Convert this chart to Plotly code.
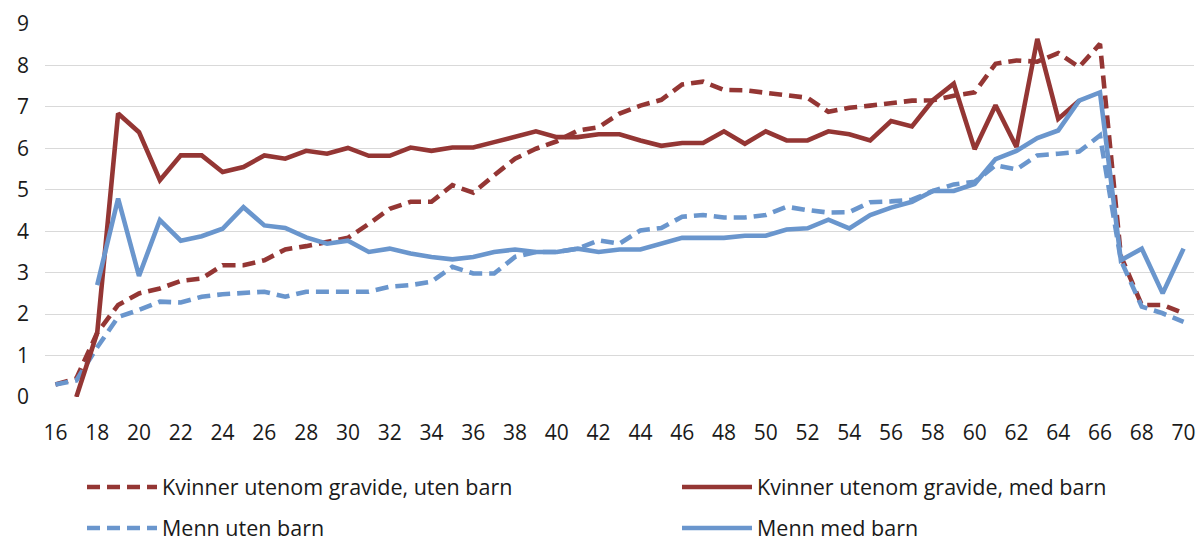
import plotly.graph_objects as go

ages = list(range(16, 71))
tick_vals = list(range(16, 71, 2))
tick_text = [str(v) for v in tick_vals]

names = [
    "Kvinner utenom gravide, uten barn",
    "Kvinner utenom gravide, med barn",
    "Menn uten barn",
    "Menn med barn",
]

# Kvinner utenom gravide, uten barn (ages 16-70)
kv_uten = [0.30, 0.45, 1.55, 2.22, 2.50, 2.62, 2.80, 2.86, 3.18, 3.18,
           3.30, 3.56, 3.64, 3.74, 3.84, 4.18, 4.54, 4.71, 4.71, 5.11,
           4.93, 5.35, 5.75, 5.99, 6.17, 6.43, 6.51, 6.84, 7.03, 7.17,
           7.54, 7.61, 7.41, 7.40, 7.34, 7.26, 7.22, 6.88, 6.98, 7.03,
           7.09, 7.15, 7.16, 7.27, 7.35, 8.04, 8.12, 8.09, 8.30, 7.96,
           8.52, 3.40, 2.22, 2.22, 2.02]

# Kvinner utenom gravide, med barn (ages 17-65)
kv_med_ages = list(range(17, 66))
kv_med = [0.00, 1.55, 6.84, 6.39, 5.23, 5.83, 5.83, 5.43, 5.55, 5.83,
          5.75, 5.94, 5.87, 6.01, 5.82, 5.82, 6.02, 5.94, 6.02, 6.02,
          6.15, 6.29, 6.41, 6.27, 6.27, 6.34, 6.34, 6.19, 6.06, 6.13,
          6.13, 6.41, 6.11, 6.41, 6.19, 6.19, 6.41, 6.34, 6.19, 6.66,
          6.53, 7.16, 7.56, 5.98, 7.04, 6.03, 8.64, 6.71, 7.15]

# Menn uten barn (ages 16-70)
menn_uten = [0.30, 0.40, 1.20, 1.93, 2.10, 2.30, 2.28, 2.42, 2.48, 2.52,
             2.54, 2.42, 2.54, 2.54, 2.54, 2.54, 2.66, 2.70, 2.78, 3.14,
             2.98, 2.98, 3.38, 3.50, 3.50, 3.58, 3.78, 3.70, 4.02, 4.08,
             4.35, 4.39, 4.33, 4.33, 4.39, 4.59, 4.51, 4.45, 4.46, 4.70,
             4.72, 4.76, 4.97, 5.13, 5.19, 5.59, 5.49, 5.83, 5.87, 5.92,
             6.31, 3.30, 2.18, 2.02, 1.81]

# Menn med barn (ages 18-70)
menn_med_ages = list(range(18, 71))
menn_med = [2.70, 4.79, 2.92, 4.27, 3.77, 3.88, 4.06, 4.58, 4.14, 4.08,
            3.85, 3.70, 3.77, 3.50, 3.58, 3.46, 3.38, 3.32, 3.38, 3.50,
            3.56, 3.50, 3.50, 3.58, 3.50, 3.56, 3.56, 3.70, 3.84, 3.84,
            3.84, 3.89, 3.89, 4.04, 4.07, 4.28, 4.07, 4.39, 4.57, 4.71,
            4.97, 4.97, 5.14, 5.74, 5.94, 6.25, 6.43, 7.15, 7.35, 3.30,
            3.58, 2.50, 3.58]

RED = "#943634"
BLUE = "#6A96CD"
FONT = "Open Sans"
LW = 4.6
DASH = "13px,7px"

W, H = 1198, 540
ML, MR, MT, MB = 45, 4, 24, 143
PW = W - ML - MR
PH = H - MT - MB


def px_x(p):
    return (p - ML) / PW


def px_y(p):
    return (H - MB - p) / PH


fig = go.Figure()
fig.add_trace(go.Scatter(x=ages, y=kv_uten, name=names[0], mode="lines",
                         line=dict(color=RED, width=LW, dash=DASH), legend="legend"))
fig.add_trace(go.Scatter(x=ages, y=menn_uten, name=names[2], mode="lines",
                         line=dict(color=BLUE, width=LW, dash=DASH), legend="legend3"))
fig.add_trace(go.Scatter(x=kv_med_ages, y=kv_med, name=names[1], mode="lines",
                         line=dict(color=RED, width=LW), legend="legend2"))
fig.add_trace(go.Scatter(x=menn_med_ages, y=menn_med, name=names[3], mode="lines",
                         line=dict(color=BLUE, width=LW), legend="legend4"))
for tr in fig.data:
    tr.showlegend = True

leg_font = dict(family=FONT, size=21.5, color="#1a1a1a")


def leg(xp, yp):
    return dict(x=px_x(xp), y=px_y(yp), xanchor="left", yanchor="middle",
                xref="paper", yref="paper", font=leg_font, visible=True,
                bgcolor="rgba(0,0,0,0)", borderwidth=0, itemwidth=70)


fig.update_layout(
    width=W, height=H,
    margin=dict(l=ML, r=MR, t=MT, b=MB, autoexpand=False),
    paper_bgcolor="white", plot_bgcolor="white",
    showlegend=True,
    font=dict(family=FONT, size=21, color="#1a1a1a"),
    xaxis=dict(range=[15.5, 70.5], tickmode="array", tickvals=tick_vals,
               ticktext=tick_text, showgrid=False, zeroline=False,
               showline=False, ticks="", tickfont=dict(size=21),
               automargin=False, ticklabelstandoff=21),
    yaxis=dict(range=[0, 9], dtick=1, showgrid=True, gridcolor="#D9D9D9",
               gridwidth=1.3, zeroline=False, showline=False, ticks="",
               tickfont=dict(size=21), ticklabelstandoff=15, automargin=False),
    legend=leg(82, 487),
    legend2=leg(677, 487),
    legend3=leg(82, 528),
    legend4=leg(677, 528),
)

fig.write_html("out.html", config={"displayModeBar": False},
               post_script="document.body.style.margin='0px';")
